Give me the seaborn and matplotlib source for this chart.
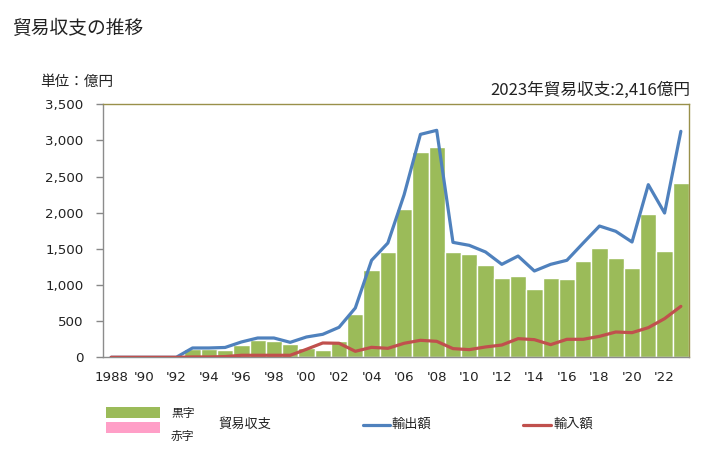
import numpy as np
import pandas as pd
import matplotlib
matplotlib.use("Agg")
import matplotlib.pyplot as plt
from matplotlib.patches import Rectangle
from matplotlib.lines import Line2D
import seaborn as sns

years = list(range(1988, 2024))
balance = [0, 0, 0, 0, 0, 110, 110, 97, 166, 240, 221, 180, 129, 97, 221, 595,
           1203, 1452, 2047, 2835, 2904, 1452, 1424, 1272, 1093, 1120, 940, 1093,
           1079, 1328, 1508, 1370, 1231, 1978, 1466, 2416]
exports = [0, 0, 0, 0, 0, 129, 129, 136, 212, 267, 267, 207, 281, 318, 415, 682,
           1342, 1581, 2250, 3084, 3140, 1590, 1549, 1457, 1286, 1401, 1194, 1286,
           1342, 1581, 1816, 1743, 1595, 2388, 1996, 3126]
imports = [0, 0, 0, 0, 0, 5, 5, 10, 28, 28, 28, 28, 111, 198, 194, 83,
           138, 124, 194, 235, 221, 120, 106, 143, 170, 258, 244, 175,
           249, 249, 290, 350, 341, 410, 535, 705]
tick_years = list(range(1988, 2023, 2))
tick_labels = ["1988"] + ["'" + str(y)[2:] for y in range(1990, 2023, 2)]
y_ticks = [0, 500, 1000, 1500, 2000, 2500, 3000, 3500]

df = pd.DataFrame({"year": years, "balance": balance,
                   "exports": exports, "imports": imports})

sns.set_style("white")
plt.rcParams["font.family"] = ["DejaVu Sans", "Noto Sans CJK JP"]
JP = ["Noto Sans CJK JP", "DejaVu Sans"]

fig = plt.figure(figsize=(7.28, 4.51), dpi=100)
ax = fig.add_axes([103 / 728, 1 - 357.3 / 451, (689 - 103) / 728, (357.3 - 104.3) / 451])

sns.barplot(data=df, x="year", y="balance", native_scale=True, width=1.0,
            color="#9BBB59", saturation=1, edgecolor="white", linewidth=1,
            ax=ax, zorder=2)
sns.lineplot(data=df, x="year", y="exports", color="#4F81BD", linewidth=2.3,
             ax=ax, zorder=3)
sns.lineplot(data=df, x="year", y="imports", color="#C0504D", linewidth=2.3,
             ax=ax, zorder=4)

ax.set_xlim(1987.5, 2023.5)
ax.set_ylim(0, 3500)
ax.set_yticks(y_ticks)
ax.set_yticklabels([f"{v:,}" for v in y_ticks])
ax.set_xticks(tick_years)
ax.set_xticklabels(tick_labels)
ax.set_xlabel("")
ax.set_ylabel("")
ax.tick_params(axis="y", length=5, width=1, color="#888888", pad=9,
               labelsize=9.6, labelcolor="#222222", left=True, direction="out")
ax.tick_params(axis="x", length=0, pad=10, labelsize=9.6, labelcolor="#222222")
for s in ["left", "bottom"]:
    ax.spines[s].set_color("#8c8c8c")
    ax.spines[s].set_linewidth(1)
for s in ["top", "right"]:
    ax.spines[s].set_color("#99904a")
    ax.spines[s].set_linewidth(1)
    ax.spines[s].set_visible(True)

W, H = 728, 451
def fx(x): return x / W
def fy(y): return 1 - y / H

fig.text(fx(12), fy(28), "貿易収支の推移", family=JP, fontsize=13.5,
         va="center", ha="left", color="#222222")
fig.text(fx(40), fy(82), "単位：億円", family=JP, fontsize=10.5,
         va="center", ha="left", color="#222222")
fig.text(fx(690), fy(90), "2023年貿易収支:2,416億円", family=JP, fontsize=12,
         va="center", ha="right", color="#222222")

# legend
fig.add_artist(Rectangle((fx(106), fy(418)), fx(54), 11 / H, transform=fig.transFigure,
                         facecolor="#9BBB59", edgecolor="none"))
fig.add_artist(Rectangle((fx(106), fy(433)), fx(54), 11 / H, transform=fig.transFigure,
                         facecolor="#FF9FC7", edgecolor="none"))
fig.text(fx(171), fy(414), "黒字", family=JP, fontsize=8.5, va="center", ha="left", color="#222222")
fig.text(fx(171), fy(436), "赤字", family=JP, fontsize=8.5, va="center", ha="left", color="#222222")
fig.text(fx(218), fy(424), "貿易収支", family=JP, fontsize=9.5, va="center", ha="left", color="#222222")
fig.add_artist(Line2D([fx(363), fx(390)], [fy(425.3), fy(425.3)], transform=fig.transFigure,
                      color="#4F81BD", linewidth=2.3))
fig.text(fx(392), fy(424), "輸出額", family=JP, fontsize=9.5, va="center", ha="left", color="#222222")
fig.add_artist(Line2D([fx(523), fx(551)], [fy(425.3), fy(425.3)], transform=fig.transFigure,
                      color="#C0504D", linewidth=2.3))
fig.text(fx(553), fy(424), "輸入額", family=JP, fontsize=9.5, va="center", ha="left", color="#222222")

fig.savefig("out.png", dpi=100)
